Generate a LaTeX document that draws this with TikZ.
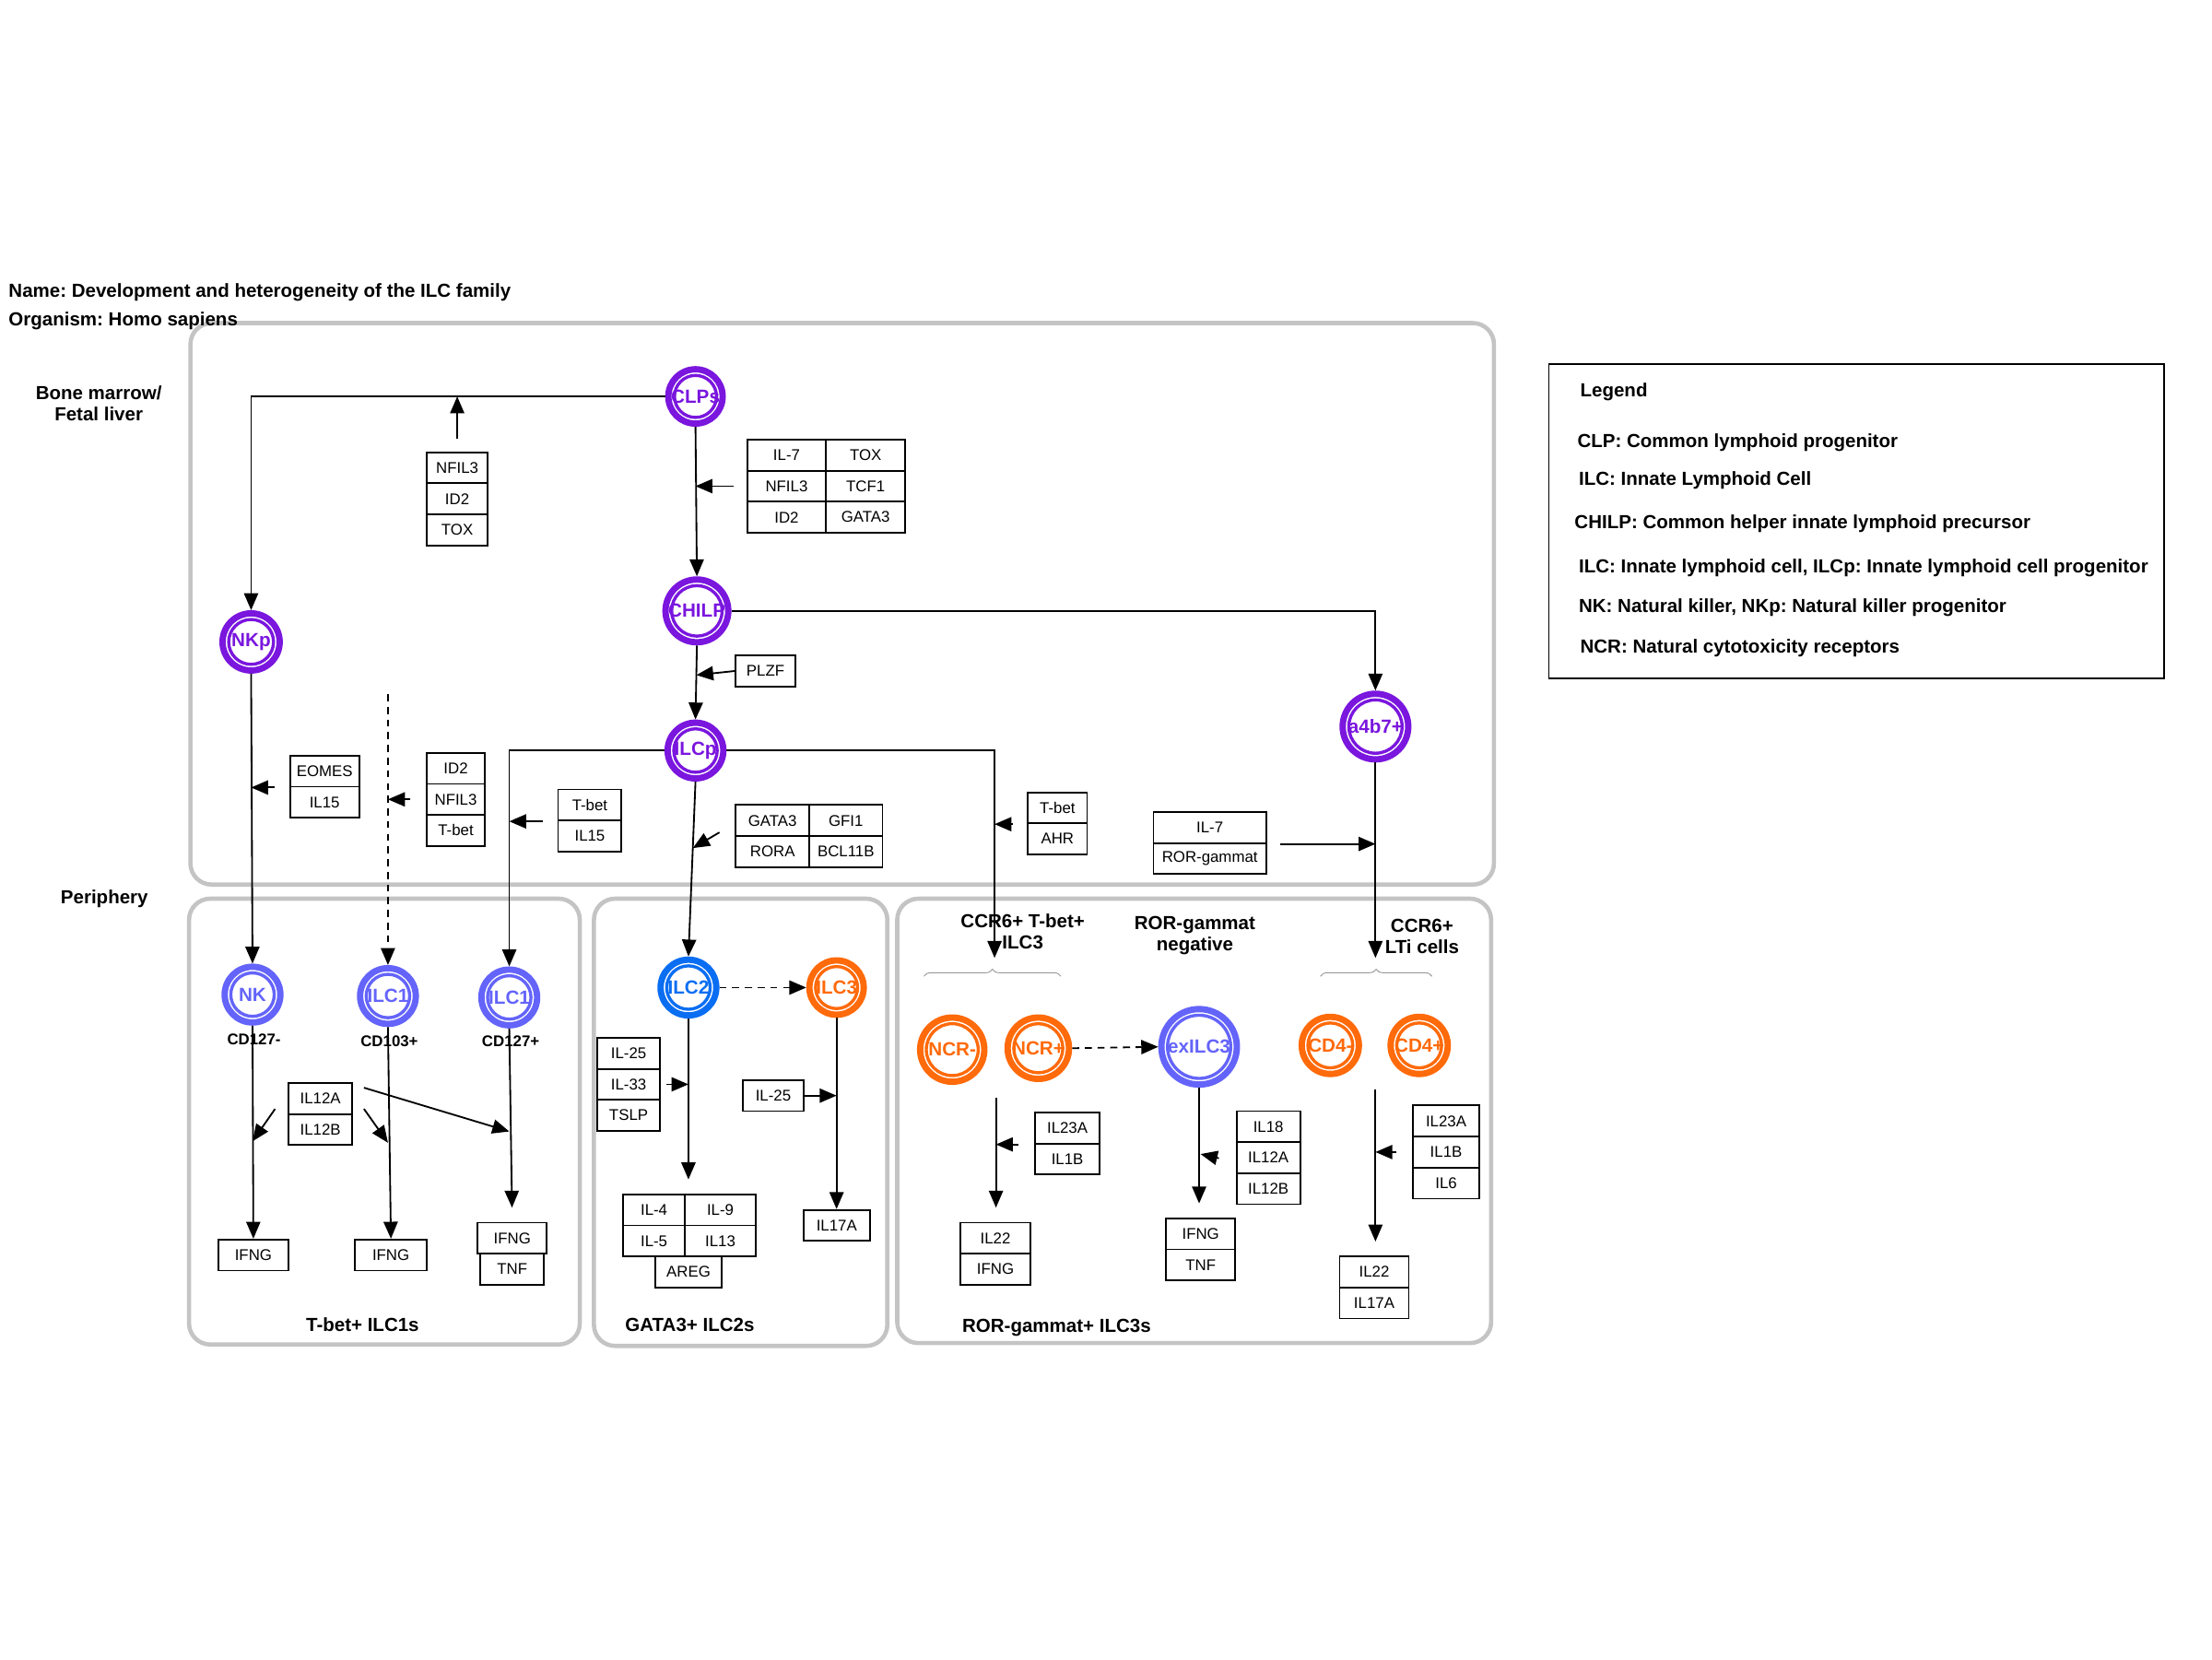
\documentclass[tikz,border=0pt]{standalone}
\usepackage{fontspec}
\setmainfont{Liberation Sans}
\frenchspacing
\usetikzlibrary{arrows.meta,decorations.pathreplacing,calc}
\definecolor{cpurple}{HTML}{7A16DE}
\definecolor{cviolet}{HTML}{6464FA}
\definecolor{cblue}{HTML}{0A6EF2}
\definecolor{corange}{HTML}{FF6A0A}
\definecolor{cpanel}{HTML}{C4C4C4}
\tikzset{
  arr/.style={-{Triangle[length=12pt,width=10pt]}, line width=1.2pt},
  dashpat/.style={dash pattern=on 5pt off 4pt},
  panel/.style={draw=cpanel, line width=3pt, rounded corners=15pt},
  cellring/.style={circle, line width=4.5pt, inner sep=0pt, fill=white, font=\bfseries\fontsize{13.5}{13.5}\selectfont},
  cellbox/.style={draw=black, line width=1.2pt, inner sep=0pt, minimum height=22pt, anchor=north west, font=\fontsize{11}{13}\selectfont},
  lbl/.style={font=\bfseries\fontsize{13.4}{15}\selectfont, align=center},
  cdlbl/.style={font=\bfseries\fontsize{11}{13}\selectfont},
  leg/.style={font=\bfseries\fontsize{13.4}{15}\selectfont, anchor=west, inner sep=0pt, yshift=-1.5pt},
  bracestyle/.style={decorate, decoration={brace, amplitude=5pt}, draw=gray!80, line width=0.6pt}
}
\newcommand{\cellnode}[6]{%
  \node[cellring, draw=#5, text=#5, minimum size={2*#4-4.5}] (#1) at (#2,#3) {#6};
  \draw[#5, line width=2.2pt] (#1.center) circle[radius={#4pt-6.6pt}];
}
\newcommand{\bx}[5]{\node[cellbox, minimum width=#4] (#1) at (#2,#3) {#5};}
\begin{document}
\begin{tikzpicture}[x=1pt,y=-1pt]
\useasboundingbox[fill=white] (0,0) rectangle (1568,1176);

% panels
\draw[panel] (135,229) rectangle (1059,627);
\draw[panel] (134,637) rectangle (411,953);
\draw[panel] (421,637) rectangle (629,954);
\draw[panel] (636,637) rectangle (1057,952);

% titles
\node[leg] (title) at (6,206) {Name: Development and heterogeneity of the ILC family};
\node[leg] (organism) at (6,226) {Organism: Homo sapiens};
\node[lbl] (bm) at (70,286) {Bone marrow/\\Fetal liver};
\node[lbl] (periph) at (74,637) {Periphery};

% legend
\draw[line width=1pt] (1098,258) rectangle (1534,481);
\node[leg] (lg0) at (1120,276) {Legend};
\node[leg] (lg1) at (1118,312) {CLP: Common lymphoid progenitor};
\node[leg] (lg2) at (1119,339) {ILC: Innate Lymphoid Cell};
\node[leg] (lg3) at (1116,370) {CHILP: Common helper innate lymphoid precursor};
\node[leg] (lg4) at (1119,401) {ILC: Innate lymphoid cell, ILCp: Innate lymphoid cell progenitor};
\node[leg] (lg5) at (1119,429) {NK: Natural killer, NKp: Natural killer progenitor};
\node[leg] (lg6) at (1120,458) {NCR: Natural cytotoxicity receptors};

% cells
\cellnode{clp}{493}{281}{21.5}{cpurple}{CLPs}
\cellnode{chilp}{494}{433}{24.5}{cpurple}{CHILP}
\cellnode{nkp}{178}{455}{22.5}{cpurple}{NKp}
\cellnode{ilcp}{493}{532}{22}{cpurple}{ILCp}
\cellnode{a4b7}{975}{515}{25.5}{cpurple}{a4b7+}
\cellnode{nk}{179}{705}{22}{cviolet}{NK}
\cellnode{ilc1a}{275}{706}{22}{cviolet}{ILC1}
\cellnode{ilc1b}{361}{707}{22}{cviolet}{ILC1}
\cellnode{ilc2}{488}{700}{22}{cblue}{ILC2}
\cellnode{ilc3}{593}{700}{21.5}{corange}{ILC3}
\cellnode{ncrm}{675}{744}{25}{corange}{NCR-}
\cellnode{ncrp}{736}{743}{24}{corange}{NCR+}
\cellnode{exilc3}{850}{742}{29}{cviolet}{exILC3}
\cellnode{cd4m}{943}{741}{22.5}{corange}{CD4-}
\cellnode{cd4p}{1006}{741}{22.5}{corange}{CD4+}

\node[cdlbl] (cd127m) at (180,737) {CD127-};
\node[cdlbl] (cd103p) at (276,738) {CD103+};
\node[cdlbl] (cd127p) at (362,738) {CD127+};

% boxes top panel
\bx{nfil3a}{302}{320}{43}{NFIL3}
\bx{id2a}{302}{342}{43}{ID2}
\bx{toxb}{302}{364}{43}{TOX}

\bx{il7a}{529}{311}{56}{IL-7}
\bx{toxa}{585}{311}{56}{TOX}
\bx{nfil3b}{529}{333}{56}{NFIL3}
\bx{tcf1}{585}{333}{56}{TCF1}
\bx{id2b}{529}{355}{56}{ID2}
\bx{gata3a}{585}{355}{56}{GATA3}

\bx{plzf}{521}{464}{42}{PLZF}

\bx{gata3b}{521}{570}{52}{GATA3}
\bx{gfi1}{573}{570}{52}{GFI1}
\bx{rora}{521}{592}{52}{RORA}
\bx{bcl11b}{573}{592}{52}{BCL11B}

\bx{eomes}{205}{535}{49}{EOMES}
\bx{il15a}{205}{557}{49}{IL15}

\bx{id2c}{302}{533}{41}{ID2}
\bx{nfil3c}{302}{555}{41}{NFIL3}
\bx{tbetc}{302}{577}{41}{T-bet}

\bx{tbet1}{395}{559}{45}{T-bet}
\bx{il15b}{395}{581}{45}{IL15}

\bx{tbet2}{728}{561}{42}{T-bet}
\bx{ahr}{728}{583}{42}{AHR}

\bx{il7c}{817}{575}{80}{IL-7}
\bx{rorg}{817}{597}{80}{ROR-gammat}

% boxes ILC1 panel
\bx{il12a}{204}{767}{45}{IL12A}
\bx{il12b}{204}{789}{45}{IL12B}
\bx{ifng1}{154}{878}{50}{IFNG}
\bx{ifng2}{251}{878}{51}{IFNG}
\bx{ifng3}{338}{866}{49}{IFNG}
\bx{tnf1}{340}{888}{45}{TNF}

% boxes ILC2 panel
\bx{il25a}{423}{735}{44}{IL-25}
\bx{il33}{423}{757}{44}{IL-33}
\bx{tslp}{423}{779}{44}{TSLP}
\bx{il4}{441}{846}{44}{IL-4}
\bx{il9}{485}{846}{50}{IL-9}
\bx{il5}{441}{868}{44}{IL-5}
\bx{il13}{485}{868}{50}{IL13}
\bx{areg}{464}{890}{47}{AREG}
\bx{il25b}{526}{765}{43}{IL-25}
\bx{il17a}{569}{857}{47}{IL17A}

% boxes ILC3 panel
\bx{il23a}{733}{788}{46}{IL23A}
\bx{il1ba}{733}{810}{46}{IL1B}
\bx{il22a}{680}{866}{50}{IL22}
\bx{ifng5}{680}{888}{50}{IFNG}
\bx{il18}{876}{787}{45}{IL18}
\bx{il12a2}{876}{809}{45}{IL12A}
\bx{il12b2}{876}{831}{45}{IL12B}
\bx{ifng4}{826}{863}{49}{IFNG}
\bx{tnf2}{826}{885}{49}{TNF}
\bx{il23a3}{1001}{783}{47}{IL23A}
\bx{il1b3}{1001}{805}{47}{IL1B}
\bx{il6}{1001}{827}{47}{IL6}
\bx{il22b}{949}{890}{49}{IL22}
\bx{il17b}{949}{912}{49}{IL17A}

% panel labels
\node[lbl] (l1) at (257,939) {T-bet+ ILC1s};
\node[lbl] (l2) at (489,939) {GATA3+ ILC2s};
\node[lbl] (l3) at (749,941) {ROR-gammat+ ILC3s};
\node[lbl] (l4) at (725,660) {CCR6+ T-bet+\\ILC3};
\node[lbl] (l5) at (847,663) {ROR-gammat\\negative};
\node[lbl] (l6) at (1008,664) {CCR6+\\LTi cells};

% braces
\draw[bracestyle] (655,692) -- (752,692);
\draw[bracestyle] (936,692) -- (1015,692);

% coordinates
\coordinate (ccr6t) at (705,679);
\coordinate (lti) at (975,679);
\coordinate (dtop) at (275,492);
\coordinate (plzft) at ($(chilp.south)!0.4!(ilcp.north)$);
\coordinate (g3s) at (510,590);
\coordinate (g3t) at ($(ilcp.south)!0.38!(ilc2.north)$);
\coordinate (a1s) at (195,786);
\coordinate (a1t) at (179,809);
\coordinate (a2s) at (258,786);
\coordinate (a2t) at (275,810);
\coordinate (a3s) at (258,771);
\coordinate (a3t) at (361,802);
\coordinate (ncrs) at (706,778);
\coordinate (e18s) at (864,821);
\coordinate (e18t) at (851,818);
\coordinate (ltis) at (975,772);

% connectors top
\draw[arr] (clp.west) -| (nkp.north);
\draw[arr] (clp.south) -- (chilp.north);
\draw[arr, shorten <=9pt] (nfil3a.north) -- (nfil3a.north |- clp.west);
\draw[arr, shorten <=9pt] (nfil3b.west) -- (nfil3b.west -| clp.south);
\draw[arr] (chilp.east) -| (a4b7.north);
\draw[arr] (chilp.south) -- (ilcp.north);
\draw[arr] (plzf.west) -- (plzft);
\draw[arr] (ilcp.west) -| (ilc1b.north);
\draw[arr] (ilcp.east) -| (ccr6t);
\draw[arr] (ilcp.south) -- (ilc2.north);
\draw[arr] (g3s) -- (g3t);
\draw[arr, shorten <=10pt] (tbet1.south west) -- (tbet1.south west -| ilc1b.north);
\draw[arr, shorten <=11pt] (nfil3c.west) -- (nfil3c.west -| ilc1a.north);
\draw[arr, shorten <=10pt] (eomes.south west) -- (eomes.south west -| nkp.south);
\draw[arr, shorten <=10pt] (tbet2.south west) -- (tbet2.south west -| ccr6t);
\draw[arr, shorten <=9pt] (il7c.south east) -- (il7c.south east -| a4b7.south);
\draw[arr, dashpat] (dtop) -- (ilc1a.north);
\draw[arr] (nkp.south) -- (nk.north);
\draw[arr] (a4b7.south) -- (lti);

% connectors ILC1 panel
\draw[arr] (nk.south) -- (ifng1.north);
\draw[arr] (ilc1a.south) -- (ifng2.north);
\draw[arr, shorten >=10pt] (ilc1b.south) -- (ifng3.north);
\draw[arr] (a1s) -- (a1t);
\draw[arr] (a2s) -- (a2t);
\draw[arr] (a3s) -- (a3t);

% connectors ILC2 panel
\draw[arr, dashpat] (ilc2.east) -- (ilc3.west);
\draw[arr, shorten >=10pt] (ilc2.south) -- (ilc2.south |- il4.north);
\draw[arr, shorten <=4pt] (il33.east) -- (il33.east -| ilc2.south);
\draw[arr] (ilc3.south) -- (ilc3.south |- il17a.north);
\draw[arr] (il25b.east) -- (il25b.east -| ilc3.south);

% connectors ILC3 panel
\draw[arr, shorten >=10pt] (ncrs) -- (ncrs |- il22a.north);
\draw[arr, shorten <=11pt] (il23a.south west) -- (il23a.south west -| ncrs);
\draw[arr, dashpat] (ncrp.east) -- (exilc3.west);
\draw[arr, shorten >=10pt] (exilc3.south) -- (exilc3.south |- ifng4.north);
\draw[arr] (e18s) -- (e18t);
\draw[arr, shorten >=10pt] (ltis) -- (ltis |- il22b.north);
\draw[arr, shorten <=11pt] (il1b3.west) -- (il1b3.west -| ltis);
\end{tikzpicture}
\end{document}
